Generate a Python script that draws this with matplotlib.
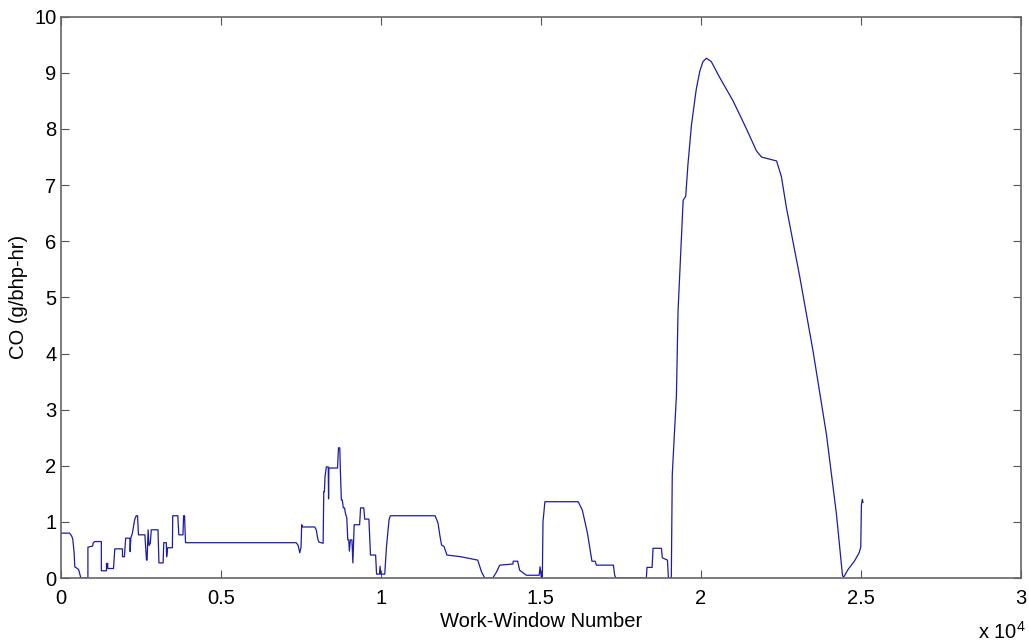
import matplotlib
matplotlib.use("Agg")
import matplotlib.pyplot as plt
from matplotlib.ticker import FuncFormatter

plt.rcParams['font.family'] = ['Liberation Sans', 'DejaVu Sans']
plt.rcParams['mathtext.default'] = 'regular'

# work-window number vs CO (step-like trace)
window = [0, 280, 340, 375, 420, 440, 520, 560, 620, 650, 850, 850, 1000, 1010, 1060,
          1270, 1270, 1430, 1430, 1470, 1470, 1650, 1690, 1930, 1930, 1990, 2030, 2160,
          2170, 2190, 2240, 2310, 2360, 2400, 2430, 2630, 2680, 2700, 2730, 2760, 2800,
          2830, 3040, 3070, 3200, 3220, 3300, 3310, 3340, 3490, 3500, 3660, 3690, 3820,
          3840, 3870, 3900, 7360, 7420, 7470, 7510, 7530, 7560, 7940, 7990, 8030, 8070,
          8200, 8220, 8240, 8260, 8300, 8360, 8370, 8380, 8650, 8680, 8720, 8740, 8770,
          8800, 8830, 8870, 8890, 8940, 8970, 9000, 9020, 9050, 9100, 9130, 9170, 9340,
          9370, 9470, 9500, 9630, 9680, 9840, 9870, 9960, 9980, 10000, 10125, 10180,
          10260, 10300, 11700, 11790, 11850, 11900, 11980, 12070, 12500, 13030, 13150,
          13250, 13500, 13610, 13720, 14130, 14140, 14280, 14340, 14550, 14950, 14980,
          15020, 15050, 15070, 15130, 16170, 16300, 16460, 16560, 16580, 16600, 16700,
          16740, 17270, 17310, 17350, 18300, 18320, 18480, 18510, 18770, 18800, 18960,
          18990, 19080, 19110, 19240, 19290, 19340, 19450, 19530, 19600, 19710, 19860,
          19970, 20070, 20180, 20330, 20590, 21010, 21430, 21740, 21900, 22370, 22520,
          22680, 23090, 23510, 23930, 24240, 24430, 24470, 24600, 24800, 24950, 25000,
          25020, 25050, 25070]
co = [0.80, 0.80, 0.75, 0.70, 0.45, 0.20, 0.17, 0.15, 0.02, 0.0, 0.0, 0.55, 0.57, 0.62, 0.65,
      0.65, 0.13, 0.13, 0.26, 0.26, 0.17, 0.17, 0.52, 0.52, 0.38, 0.38, 0.71, 0.71,
      0.47, 0.71, 0.80, 1.04, 1.11, 1.11, 0.77, 0.77, 0.32, 0.32, 0.86, 0.58, 0.62,
      0.86, 0.86, 0.27, 0.27, 0.63, 0.63, 0.38, 0.54, 0.54, 1.11, 1.11, 0.77, 0.77,
      1.11, 1.11, 0.63, 0.63, 0.58, 0.45, 0.55, 0.95, 0.91, 0.91, 0.85, 0.70, 0.64,
      0.62, 1.54, 1.54, 1.81, 1.98, 1.98, 1.41, 1.96, 1.96, 2.32, 2.32, 1.90, 1.39,
      1.39, 1.25, 1.25, 1.17, 1.07, 0.68, 0.68, 0.48, 0.68, 0.68, 0.27, 0.95, 0.95,
      1.25, 1.25, 1.05, 1.05, 0.41, 0.41, 0.07, 0.07, 0.21, 0.07, 0.07, 0.56,
      1.04, 1.11, 1.11, 0.98, 0.75, 0.59, 0.56, 0.41, 0.38, 0.32, 0.11,
      0.0, 0.0, 0.10, 0.23, 0.25, 0.30, 0.30, 0.14, 0.05, 0.05, 0.20,
      0.0, 0.0, 1.0, 1.36, 1.36, 1.21, 0.80, 0.45, 0.38, 0.30, 0.30,
      0.23, 0.23, 0.05, 0.0, 0.0, 0.19, 0.19, 0.53, 0.53, 0.36, 0.32,
      0.0, 0.0, 1.84, 3.26, 4.75, 5.38, 6.73, 6.80, 7.37, 8.07, 8.71,
      9.03, 9.20, 9.26, 9.20, 8.92, 8.50, 8.00, 7.61, 7.50, 7.43, 7.15,
      6.59, 5.38, 4.04, 2.55, 1.14, 0.04, 0.02, 0.15, 0.30, 0.45, 0.55,
      1.30, 1.40, 1.35]

xticks = [0, 5000, 10000, 15000, 20000, 25000, 30000]
yticks = list(range(0, 11))

fig = plt.figure(figsize=(10.29, 6.43), dpi=100)
ax = fig.add_axes([0.059, 0.101, 0.933, 0.873])

ax.plot(window, co, color='#1c1ca8', linewidth=0.9)

ax.set_xlim(0, 30000)
ax.set_ylim(0, 10)
ax.set_xticks(xticks)
ax.set_yticks(yticks)
ax.xaxis.set_major_formatter(FuncFormatter(lambda v, p: '%g' % (v / 1e4)))
ax.tick_params(direction='in', length=6, width=0.8, colors='#555555',
               labelcolor='black', labelsize=14.5, top=True, right=True, pad=3)
ax.tick_params(axis='x', pad=8)
for s in ax.spines.values():
    s.set_color('#666666')
    s.set_linewidth(1.2)

ax.set_xlabel('Work-Window Number', fontsize=14.5, labelpad=3)
ax.set_ylabel('CO (g/bhp-hr)', fontsize=14.5)
ax.yaxis.set_label_coords(-0.034, 0.5)
fig.text(0.997, 0.0, 'x 10$^4$', ha='right', va='bottom', fontsize=14.5)

fig.savefig('out.png', dpi=100)
